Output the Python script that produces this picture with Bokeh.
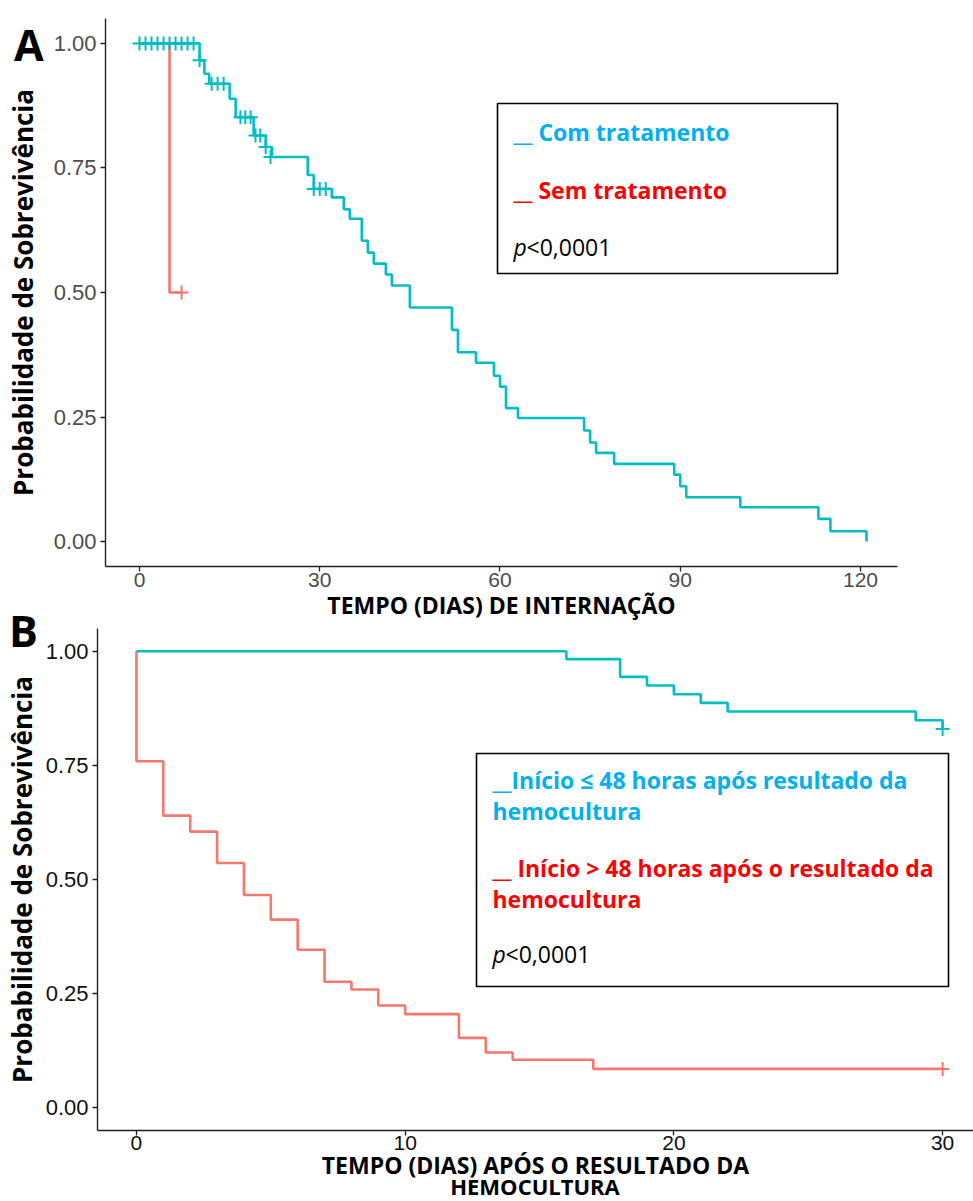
from bokeh.plotting import figure
from bokeh.models import (Range1d, Label, BoxAnnotation, FixedTicker, NumeralTickFormatter, Div)
from bokeh.embed import file_html
from bokeh.resources import INLINE

TEAL = "#00BFC4"
RED = "#F8766D"
BLUE_TXT = "#00B0F0"
RED_TXT = "#FF0000"

# ---------------- Panel A data (tempo de internação) ----------------
a_com_time = [0, 10, 10.8, 11.6, 15, 16, 19, 21, 22, 28, 29, 32, 34, 35, 37, 38, 39, 41, 42, 45,
              52, 53, 56, 59, 60, 61, 63, 74, 75, 76, 79, 89, 90, 91, 100, 113, 115, 121]
a_com_surv = [1.0, 0.966, 0.939, 0.919, 0.889, 0.852, 0.815, 0.792, 0.772, 0.736, 0.708, 0.691,
              0.667, 0.648, 0.604, 0.580, 0.558, 0.536, 0.514, 0.470, 0.425, 0.380, 0.359, 0.333,
              0.311, 0.268, 0.248, 0.223, 0.199, 0.178, 0.156, 0.1345, 0.111, 0.089, 0.069,
              0.0455, 0.0207, 0.0]
a_com_cens_time = [0, 1, 2, 3, 4, 5, 6, 7, 8, 9, 10, 12, 13, 14, 16.8, 17.6, 18.5, 19.3, 20.1, 21, 21.8, 29, 30, 31]
a_com_cens_surv = [1.0] * 10 + [0.966, 0.919, 0.919, 0.919, 0.852, 0.852, 0.852, 0.815, 0.815,
                                0.792, 0.772, 0.708, 0.708, 0.708]
a_sem_time = [0, 5, 7]
a_sem_surv = [1.0, 0.5, 0.5]
a_sem_cens_time = [7]
a_sem_cens_surv = [0.5]
a_xticks = [0, 30, 60, 90, 120]
y_ticks = [0, 0.25, 0.5, 0.75, 1.0]

# ---------------- Panel B data (após resultado da hemocultura) ----------------
b_le48_time = [0, 16, 18, 19, 20, 21, 22, 29, 30]
b_le48_surv = [1.0, 0.983, 0.944, 0.925, 0.906, 0.887, 0.868, 0.849, 0.830]
b_le48_cens_time = [30]
b_le48_cens_surv = [0.830]
b_gt48_time = [0, 0, 1, 2, 3, 4, 5, 6, 7, 8, 9, 10, 12, 13, 14, 17, 30]
b_gt48_surv = [1.0, 0.759, 0.640, 0.605, 0.536, 0.466, 0.412, 0.346, 0.276, 0.259, 0.224,
               0.205, 0.153, 0.121, 0.105, 0.085, 0.085]
b_gt48_cens_time = [30]
b_gt48_cens_surv = [0.085]
b_xticks = [0, 10, 20, 30]

TICK_FONT = "Liberation Sans"
TITLE_FONT = "Open Sans"


def style(p, tick_color):
    p.xgrid.visible = False
    p.ygrid.visible = False
    p.outline_line_color = None
    p.background_fill_color = "white"
    p.border_fill_color = "white"
    for ax in (p.xaxis[0], p.yaxis[0]):
        ax.axis_line_color = "#222222"
        ax.axis_line_width = 1.4
        ax.major_tick_line_color = "#222222"
        ax.major_tick_line_width = 1.3
        ax.major_tick_out = 5
        ax.major_tick_in = 0
        ax.minor_tick_out = 0
        ax.minor_tick_in = 0
        ax.major_label_text_font = TICK_FONT
        ax.major_label_text_color = tick_color
        ax.axis_label_text_font = TITLE_FONT
        ax.axis_label_text_font_style = "bold"
        ax.axis_label_text_color = "black"
    p.yaxis[0].formatter = NumeralTickFormatter(format="0.00")
    p.yaxis[0].ticker = FixedTicker(ticks=y_ticks)


lab_kw = dict(text_font=TITLE_FONT, text_font_size="23px", text_baseline="middle", text_align="left")

# ================= Panel A =================
A_L, A_R, A_T, A_B = 105, 897, 18, 566
A_X = (-5.66, 126.16)
Y_R = (-0.05, 1.05)
HA = 624
pA = figure(width=973, height=HA, x_range=Range1d(*A_X), y_range=Range1d(*Y_R),
            output_backend="svg", toolbar_location=None,
            min_border_left=A_L, min_border_right=973 - A_R, min_border_top=A_T,
            min_border_bottom=HA - A_B)
style(pA, "#4D4D4D")
pA.xaxis[0].ticker = FixedTicker(ticks=a_xticks)
pA.xaxis[0].major_label_text_font_size = "21px"
pA.yaxis[0].major_label_text_font_size = "22px"
pA.xaxis[0].major_label_standoff = 1
pA.yaxis[0].major_label_standoff = 4
pA.xaxis[0].axis_label = "TEMPO (DIAS) DE INTERNAÇÃO"
pA.xaxis[0].axis_label_text_font_size = "23px"
pA.xaxis[0].axis_label_standoff = -1
pA.yaxis[0].axis_label = "Probabilidade de Sobrevivência"
pA.yaxis[0].axis_label_text_font_size = "26px"
pA.yaxis[0].axis_label_standoff = 10

pA.step(a_sem_time, a_sem_surv, mode="after", line_color=RED, line_width=2.6)
pA.step(a_com_time, a_com_surv, mode="after", line_color=TEAL, line_width=2.6)
pA.scatter(a_sem_cens_time, a_sem_cens_surv, marker="cross", size=14, line_color=RED, line_width=2)
pA.scatter(a_com_cens_time, a_com_cens_surv, marker="cross", size=14, line_color=TEAL, line_width=2)


def xa(px):
    return A_X[0] + (px - A_L) / (A_R - A_L) * (A_X[1] - A_X[0])


def ya(py):
    return Y_R[1] - (py - A_T) / (A_B - A_T) * (Y_R[1] - Y_R[0])


pA.add_layout(BoxAnnotation(left=xa(497), right=xa(837), top=ya(103), bottom=ya(273),
                            fill_color="white", fill_alpha=1.0, line_color="black",
                            line_alpha=1.0, line_width=1.6))
pA.add_layout(Label(x=xa(513), y=ya(131), text="__ Com tratamento", text_color=BLUE_TXT,
                    text_font_style="bold", **lab_kw))
pA.add_layout(Label(x=xa(513), y=ya(189), text="__ Sem tratamento", text_color=RED_TXT,
                    text_font_style="bold", **lab_kw))
pA.add_layout(Label(x=xa(513), y=ya(246), text="p", text_color="black",
                    text_font_style="italic", **lab_kw))
pA.add_layout(Label(x=xa(513), y=ya(246), x_offset=13, text="<0,0001", text_color="black", **lab_kw))

# ================= Panel B =================
B_TOP0 = HA
B_L, B_R, B_T, B_B = 97, 973, 628 - B_TOP0, 1130 - B_TOP0
B_X = (-1.45, 31.15)
HB = 1201 - B_TOP0
pB = figure(width=973, height=HB, x_range=Range1d(*B_X), y_range=Range1d(*Y_R),
            output_backend="svg", toolbar_location=None,
            min_border_left=B_L, min_border_right=0, min_border_top=B_T,
            min_border_bottom=HB - B_B)
style(pB, "#111111")
pB.xaxis[0].ticker = FixedTicker(ticks=b_xticks)
pB.xaxis[0].major_label_text_font_size = "21px"
pB.yaxis[0].major_label_text_font_size = "22px"
pB.xaxis[0].major_label_standoff = 0
pB.yaxis[0].major_label_standoff = 4
pB.xaxis[0].axis_label = "TEMPO (DIAS) APÓS O RESULTADO DA"
pB.xaxis[0].axis_label_text_font_size = "23px"
pB.xaxis[0].axis_label_standoff = -4
pB.yaxis[0].axis_label = "Probabilidade de Sobrevivência"
pB.yaxis[0].axis_label_text_font_size = "26px"
pB.yaxis[0].axis_label_standoff = 3

pB.step(b_gt48_time, b_gt48_surv, mode="after", line_color=RED, line_width=2.6)
pB.step(b_le48_time, b_le48_surv, mode="after", line_color=TEAL, line_width=2.6)
pB.scatter(b_gt48_cens_time, b_gt48_cens_surv, marker="cross", size=14, line_color=RED, line_width=2)
pB.scatter(b_le48_cens_time, b_le48_cens_surv, marker="cross", size=14, line_color=TEAL, line_width=2)


def xb(px):
    return B_X[0] + (px - B_L) / (B_R - B_L) * (B_X[1] - B_X[0])


def yb(py):
    py = py - B_TOP0
    return Y_R[1] - (py - B_T) / (B_B - B_T) * (Y_R[1] - Y_R[0])


pB.add_layout(BoxAnnotation(left=xb(476), right=xb(948), top=yb(753), bottom=yb(986),
                            fill_color="white", fill_alpha=1.0, line_color="black",
                            line_alpha=1.0, line_width=1.6))
pB.add_layout(Label(x=xb(492), y=yb(779), text="__Início ≤ 48 horas após resultado da",
                    text_color=BLUE_TXT, text_font_style="bold", **lab_kw))
pB.add_layout(Label(x=xb(492), y=yb(810), text="hemocultura",
                    text_color=BLUE_TXT, text_font_style="bold", **lab_kw))
pB.add_layout(Label(x=xb(492), y=yb(867), text="__ Início > 48 horas após o resultado da",
                    text_color=RED_TXT, text_font_style="bold", **lab_kw))
pB.add_layout(Label(x=xb(492), y=yb(898), text="hemocultura",
                    text_color=RED_TXT, text_font_style="bold", **lab_kw))
pB.add_layout(Label(x=xb(492), y=yb(953), text="p", text_color="black",
                    text_font_style="italic", **lab_kw))
pB.add_layout(Label(x=xb(492), y=yb(953), x_offset=13, text="<0,0001", text_color="black", **lab_kw))

letter_css = {"position": "absolute", "font-family": "Open Sans", "font-weight": "bold",
              "font-size": "43px", "line-height": "45px", "color": "black", "margin": "0"}
divA = Div(text="A", styles=dict(letter_css, left="14px", top="22px"))
divB = Div(text="B", styles=dict(letter_css, left="9px", top="608px"))
# second line of panel B's x-axis title
divX2 = Div(text="HEMOCULTURA",
            styles={"position": "absolute", "left": "97px", "top": "1175px", "width": "876px",
                    "text-align": "center", "font-family": "Open Sans", "font-weight": "bold",
                    "font-size": "22px", "line-height": "22px", "color": "black", "margin": "0"})

open("out.html", "w").write(file_html([pA, pB, divA, divB, divX2], INLINE))
